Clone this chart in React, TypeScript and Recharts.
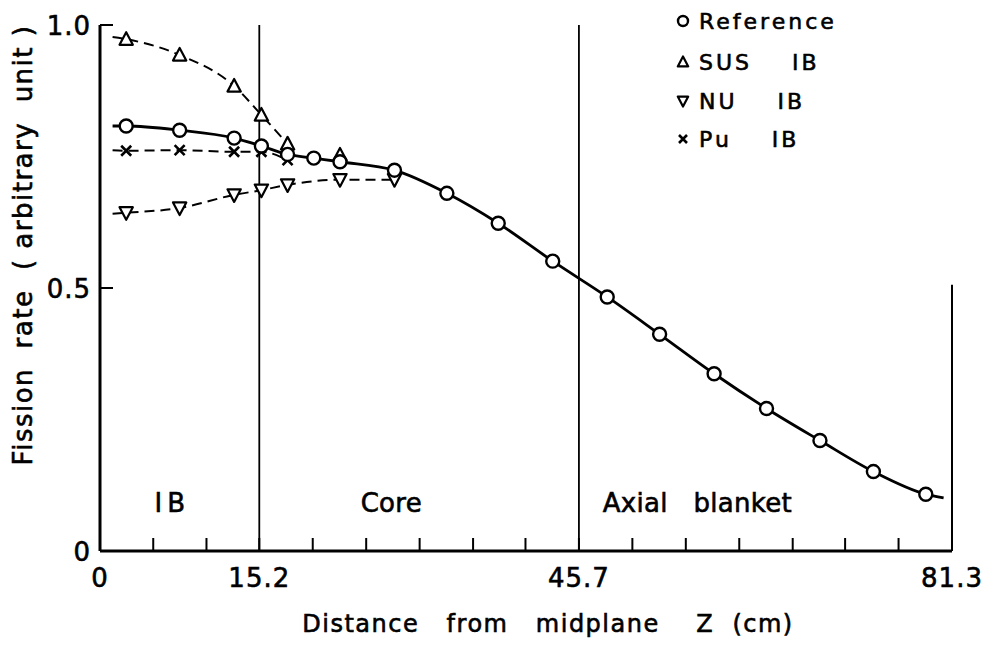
import {
    ComposedChart,
    Line,
    Scatter,
    XAxis,
    YAxis,
    ReferenceLine,
    ReferenceDot,
    Legend,
    Label,
} from "recharts";

// Axial distance from midplane Z (cm) and fission rate (arbitrary unit)
const zRef = [2.5, 7.6, 12.8, 15.4, 17.9, 20.4, 22.9, 28.1, 33.1, 38.0, 43.2, 48.4, 53.4, 58.6, 63.6, 68.7, 73.8, 78.8];
const rateRef = [0.808, 0.8, 0.785, 0.77, 0.754, 0.747, 0.74, 0.724, 0.68, 0.623, 0.551, 0.483, 0.412, 0.337, 0.271, 0.21, 0.151, 0.108];

const zSus = [2.5, 7.6, 12.8, 15.4, 17.9, 22.9];
const rateSus = [0.973, 0.943, 0.884, 0.829, 0.774, 0.753];

const zNu = [2.5, 7.6, 12.8, 15.4, 17.9, 22.9, 28.1];
const rateNu = [0.643, 0.652, 0.677, 0.686, 0.696, 0.706, 0.706];

const zPu = [2.5, 7.6, 12.8, 15.4, 17.9];
const ratePu = [0.761, 0.762, 0.759, 0.759, 0.743];

// the drawn curves start a little left of the first marker
const curveStartZ = 1.2;
const curveStartRate = [0.808, 0.977, 0.641, 0.762]; // ref, sus, nu, pu
const refCurveEnd = [80.5, 0.101];
const susCurvePoints = 5; // SUS dashed curve stops at the 5th marker, then joins the reference

const seriesNames = ["Reference", "SUS    IB", "NU    IB", "Pu    IB"];

// region boundaries (cm)
const boundaries = [15.2, 45.7];
const regionNames = ["IB", "Core", "Axial   blanket"];
const regionZ = [6.9, 27.8, 57.0];
const regionRate = 0.091;

const xTicks = [0, 5.08, 10.16, 15.2, 20.3, 25.4, 30.5, 35.6, 40.6, 45.7, 50.8, 55.9, 61.0, 66.1, 71.1, 76.2, 81.3];
const xTickText = ["0", "", "", "15.2", "", "", "", "", "", "45.7", "", "", "", "", "", "", "81.3"];
const yTicks = [0, 0.5, 1.0];
const yTickText = ["0", "0.5", "1.0"];

const FONT = "DejaVu Sans";
// the original lettering is a heavy plotter pen, thicken the glyphs a little
const INK = { fill: "#000", stroke: "#000", strokeWidth: 0.6 };

const toPoints = (xs: number[], ys: number[]) => xs.map((x, i) => ({ x, y: ys[i] }));

const refCurve = [
    { x: curveStartZ, y: curveStartRate[0] },
    ...toPoints(zRef, rateRef),
    { x: refCurveEnd[0], y: refCurveEnd[1] },
];
const susCurve = [{ x: curveStartZ, y: curveStartRate[1] }, ...toPoints(zSus, rateSus).slice(0, susCurvePoints)];
const nuCurve = [{ x: curveStartZ, y: curveStartRate[2] }, ...toPoints(zNu, rateNu)];
const puCurve = [{ x: curveStartZ, y: curveStartRate[3] }, ...toPoints(zPu, ratePu)];

function CircleMark({ cx, cy, r = 6.5 }: any) {
    return <circle cx={cx} cy={cy} r={r} fill="#fff" stroke="#000" strokeWidth={2.4} />;
}

function TriUpMark({ cx, cy, s = 7 }: any) {
    return (
        <path
            d={`M${cx},${cy - s} L${cx + s * 0.95},${cy + s * 0.8} L${cx - s * 0.95},${cy + s * 0.8} Z`}
            fill="#fff"
            stroke="#000"
            strokeWidth={2.2}
            strokeLinejoin="round"
        />
    );
}

function TriDownMark({ cx, cy, s = 7 }: any) {
    return (
        <path
            d={`M${cx},${cy + s} L${cx + s * 0.95},${cy - s * 0.8} L${cx - s * 0.95},${cy - s * 0.8} Z`}
            fill="#fff"
            stroke="#000"
            strokeWidth={2.2}
            strokeLinejoin="round"
        />
    );
}

function CrossMark({ cx, cy, s = 5 }: any) {
    return (
        <path
            d={`M${cx - s},${cy - s} L${cx + s},${cy + s} M${cx - s},${cy + s} L${cx + s},${cy - s}`}
            stroke="#000"
            strokeWidth={2.6}
        />
    );
}

function ZTick({ x, y, payload, index }: any) {
    const text = xTickText[index] ?? "";
    const edge = payload.value === 0 || payload.value === 81.3;
    return (
        <g>
            {!edge && <line x1={x} y1={y} x2={x} y2={y - 13} stroke="#000" strokeWidth={2} />}
            {text && (
                <text x={x} y={y + 36} textAnchor="middle" fontFamily={FONT} fontSize={26} letterSpacing={1} {...INK}>
                    {text}
                </text>
            )}
        </g>
    );
}

function RateTick({ x, y, index }: any) {
    const text = yTickText[index] ?? "";
    return (
        <g>
            {index > 0 && <line x1={x} y1={y} x2={x + 13} y2={y} stroke="#000" strokeWidth={2} />}
            <text x={x - 9} y={y + 10} textAnchor="end" fontFamily={FONT} fontSize={26} letterSpacing={1} {...INK}>
                {text}
            </text>
        </g>
    );
}

function legendMark(i: number, cx: number, cy: number) {
    if (i === 0) return <CircleMark cx={cx} cy={cy} r={5} />;
    if (i === 1) return <TriUpMark cx={cx} cy={cy} s={5.5} />;
    if (i === 2) return <TriDownMark cx={cx} cy={cy} s={5.5} />;
    return <CrossMark cx={cx} cy={cy} s={4} />;
}

function LegendBox() {
    const rows = [21, 62, 101, 139];
    return (
        <svg width={320} height={160} style={{ display: "block" }}>
            {seriesNames.map((name, i) => (
                <g key={name}>
                    {legendMark(i, 23, rows[i])}
                    <text
                        x={39}
                        y={rows[i] + 8}
                        fontFamily={FONT}
                        fontSize={22}
                        letterSpacing={3}
                        {...INK}
                        style={{ whiteSpace: "pre" }}
                    >
                        {name}
                    </text>
                </g>
            ))}
        </svg>
    );
}

function RegionLabel({ viewBox, value }: any) {
    const cx = viewBox.x + viewBox.width / 2;
    const cy = viewBox.y + viewBox.height / 2;
    return (
        <text
            x={cx}
            y={cy + 9}
            textAnchor="middle"
            fontFamily={FONT}
            fontSize={26}
            letterSpacing={value === "IB" ? 5 : 0.3}
            {...INK}
            style={{ whiteSpace: "pre" }}
        >
            {value}
        </text>
    );
}

export default function App() {
    return (
        <div style={{ position: "absolute", left: 0, top: 0, background: "#fff" }}>
            <ComposedChart width={988} height={647} margin={{ top: 25, right: 36, bottom: 0, left: 0 }}>
                <XAxis
                    type="number"
                    dataKey="x"
                    domain={[0, 81.3]}
                    ticks={xTicks}
                    interval={0}
                    allowDataOverflow
                    height={96}
                    tickSize={0}
                    tickMargin={0}
                    tickLine={false}
                    axisLine={{ stroke: "#000", strokeWidth: 3 }}
                    tick={<ZTick />}
                >
                    <Label
                        content={({ viewBox }: any) => (
                            <text
                                x={viewBox.x + viewBox.width / 2 + 22}
                                y={viewBox.y + 81}
                                textAnchor="middle"
                                fontFamily={FONT}
                                fontSize={24}
                                letterSpacing={1.5}
                                {...INK}
                                style={{ whiteSpace: "pre" }}
                            >
                                {"Distance   from   midplane    Z  (cm)"}
                            </text>
                        )}
                    />
                </XAxis>
                <YAxis
                    type="number"
                    dataKey="y"
                    domain={[0, 1]}
                    ticks={yTicks}
                    interval={0}
                    allowDataOverflow
                    width={100}
                    tickSize={0}
                    tickMargin={0}
                    tickLine={false}
                    axisLine={{ stroke: "#000", strokeWidth: 3 }}
                    tick={<RateTick />}
                >
                    <Label
                        content={({ viewBox }: any) => {
                            const x = viewBox.x + 32;
                            const y = viewBox.y + viewBox.height / 2 - 43;
                            return (
                                <text
                                    x={x}
                                    y={y}
                                    transform={`rotate(-90 ${x} ${y})`}
                                    textAnchor="middle"
                                    fontFamily={FONT}
                                    fontSize={26}
                                    letterSpacing={1.5}
                                    {...INK}
                                    style={{ whiteSpace: "pre" }}
                                >
                                    {"Fission  rate  ( arbitrary  unit )"}
                                </text>
                            );
                        }}
                    />
                </YAxis>

                {boundaries.map((b) => (
                    <ReferenceLine key={b} x={b} stroke="#000" strokeWidth={1.8} />
                ))}
                <ReferenceLine
                    segment={[
                        { x: 81.3, y: 0 },
                        { x: 81.3, y: 0.506 },
                    ]}
                    stroke="#000"
                    strokeWidth={2}
                />

                {regionNames.map((name, i) => (
                    <ReferenceDot
                        key={name}
                        x={regionZ[i]}
                        y={regionRate}
                        r={1}
                        fill="none"
                        stroke="none"
                        label={<RegionLabel value={name} />}
                    />
                ))}

                <Line data={refCurve} dataKey="y" type="monotone" stroke="#000" strokeWidth={2.8} dot={false} activeDot={false} isAnimationActive={false} />
                <Line data={susCurve} dataKey="y" type="monotone" stroke="#000" strokeWidth={2} strokeDasharray="10 6" dot={false} activeDot={false} isAnimationActive={false} />
                <Line data={nuCurve} dataKey="y" type="monotone" stroke="#000" strokeWidth={2} strokeDasharray="10 6" dot={false} activeDot={false} isAnimationActive={false} />
                <Line data={puCurve} dataKey="y" type="monotone" stroke="#000" strokeWidth={2} strokeDasharray="10 6" dot={false} activeDot={false} isAnimationActive={false} />

                <Scatter data={toPoints(zPu, ratePu)} dataKey="y" shape={(p: any) => <CrossMark cx={p.cx} cy={p.cy} />} isAnimationActive={false} />
                <Scatter data={toPoints(zNu, rateNu)} dataKey="y" shape={(p: any) => <TriDownMark cx={p.cx} cy={p.cy} />} isAnimationActive={false} />
                <Scatter data={toPoints(zSus, rateSus)} dataKey="y" shape={(p: any) => <TriUpMark cx={p.cx} cy={p.cy} />} isAnimationActive={false} />
                <Scatter data={toPoints(zRef, rateRef)} dataKey="y" shape={(p: any) => <CircleMark cx={p.cx} cy={p.cy} />} isAnimationActive={false} />

                <Legend
                    layout="vertical"
                    align="center"
                    verticalAlign="middle"
                    wrapperStyle={{ left: 660, top: 0, width: 320, height: 160 }}
                    content={() => <LegendBox />}
                />
            </ComposedChart>
        </div>
    );
}
